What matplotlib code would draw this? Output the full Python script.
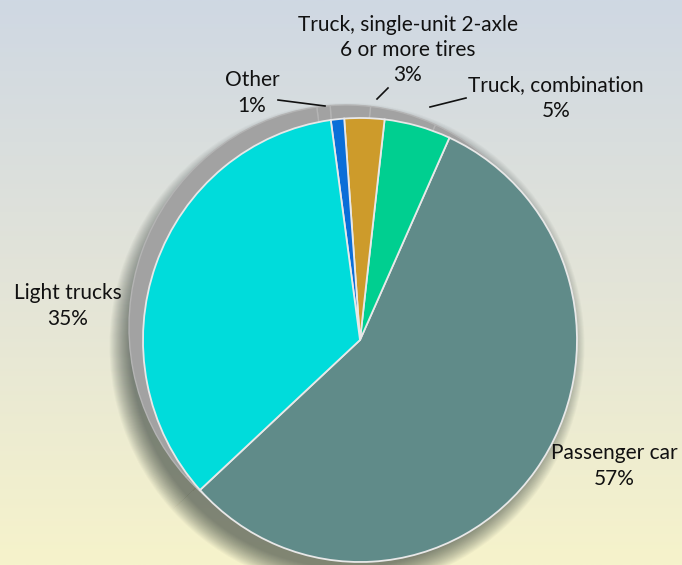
import numpy as np
import matplotlib.pyplot as plt
from matplotlib.colors import LinearSegmentedColormap

# data (percent of vehicles)
categories = ['Passenger car', 'Truck, combination',
              'Truck, single-unit 2-axle\n6 or more tires', 'Other', 'Light trucks']
shares = [57, 5, 3, 1, 35]
colors = ['#608b89', '#00cf90', '#cd9b2b', '#0a6ed8', '#00dcdb']

# label placement in pixels (x, y center) and leader lines
label_pos = [(614, 466), (556, 98), (408, 50), (252, 93), (68, 306)]
leaders = [None, ((466, 98), (430, 107)), ((388, 88), (377, 99)),
           ((278, 100), (325, 106)), None]

plt.rcParams['font.family'] = ['Lato', 'DejaVu Sans']

W, H = 682, 565
fig = plt.figure(figsize=(W / 100, H / 100), dpi=100)

# background gradient
bg = fig.add_axes([0, 0, 1, 1], zorder=0)
cmap = LinearSegmentedColormap.from_list('bg', ['#cfd8e3', '#e3e4d8', '#f6f3cb'])
grad = np.linspace(0, 1, 256).reshape(-1, 1)
bg.imshow(grad, cmap=cmap, aspect='auto', extent=(0, W, H, 0))
bg.set_xlim(0, W)
bg.set_ylim(H, 0)
bg.axis('off')

# pie face box in pixels
x0, x1, y0, y1 = 143, 577, 118, 562
rx, ry = (x1 - x0) / 2, (y1 - y0) / 2
ax = fig.add_axes([x0 / W, (H - y1) / H, (x1 - x0) / W, (y1 - y0) / H], zorder=1)
ax.patch.set_alpha(0)

# soft shadow
for k in range(22):
    s = 1.0 + 0.0045 * k
    w, _ = ax.pie(shares, radius=s, center=(-13 / rx, -6 / ry),
                  colors=['#1c2a2a'] * len(shares), startangle=222.5,
                  wedgeprops=dict(linewidth=0, alpha=0.03))
    for p in w:
        p.set_clip_on(False)

# grey rim (back of the disk)
rim, _ = ax.pie(shares, center=(-14 / rx, 13 / ry), colors=['#a2a2a2'] * len(shares),
                startangle=222.5, wedgeprops=dict(edgecolor='#b4b4b4', linewidth=1))
for p in rim:
    p.set_clip_on(False)

# face
face, _ = ax.pie(shares, colors=colors, startangle=222.5,
                 wedgeprops=dict(edgecolor='#e8e8e8', linewidth=1.3))
for p in face:
    p.set_clip_on(False)
ax.set_aspect('auto')
ax.set_xlim(-1, 1)
ax.set_ylim(-1, 1)
ax.axis('off')

# labels
top = fig.add_axes([0, 0, 1, 1], zorder=2)
top.patch.set_alpha(0)
top.set_xlim(0, W)
top.set_ylim(H, 0)
top.axis('off')
for name, val, (tx, ty), ld in zip(categories, shares, label_pos, leaders):
    top.text(tx, ty, f'{name}\n{val}%', ha='center', va='center',
             fontsize=15, color='#111111', linespacing=1.32)
    if ld is not None:
        (ax_, ay_), (bx_, by_) = ld
        top.plot([ax_, bx_], [ay_, by_], color='#111111', lw=1.2)

fig.savefig('out.png', dpi=100)
